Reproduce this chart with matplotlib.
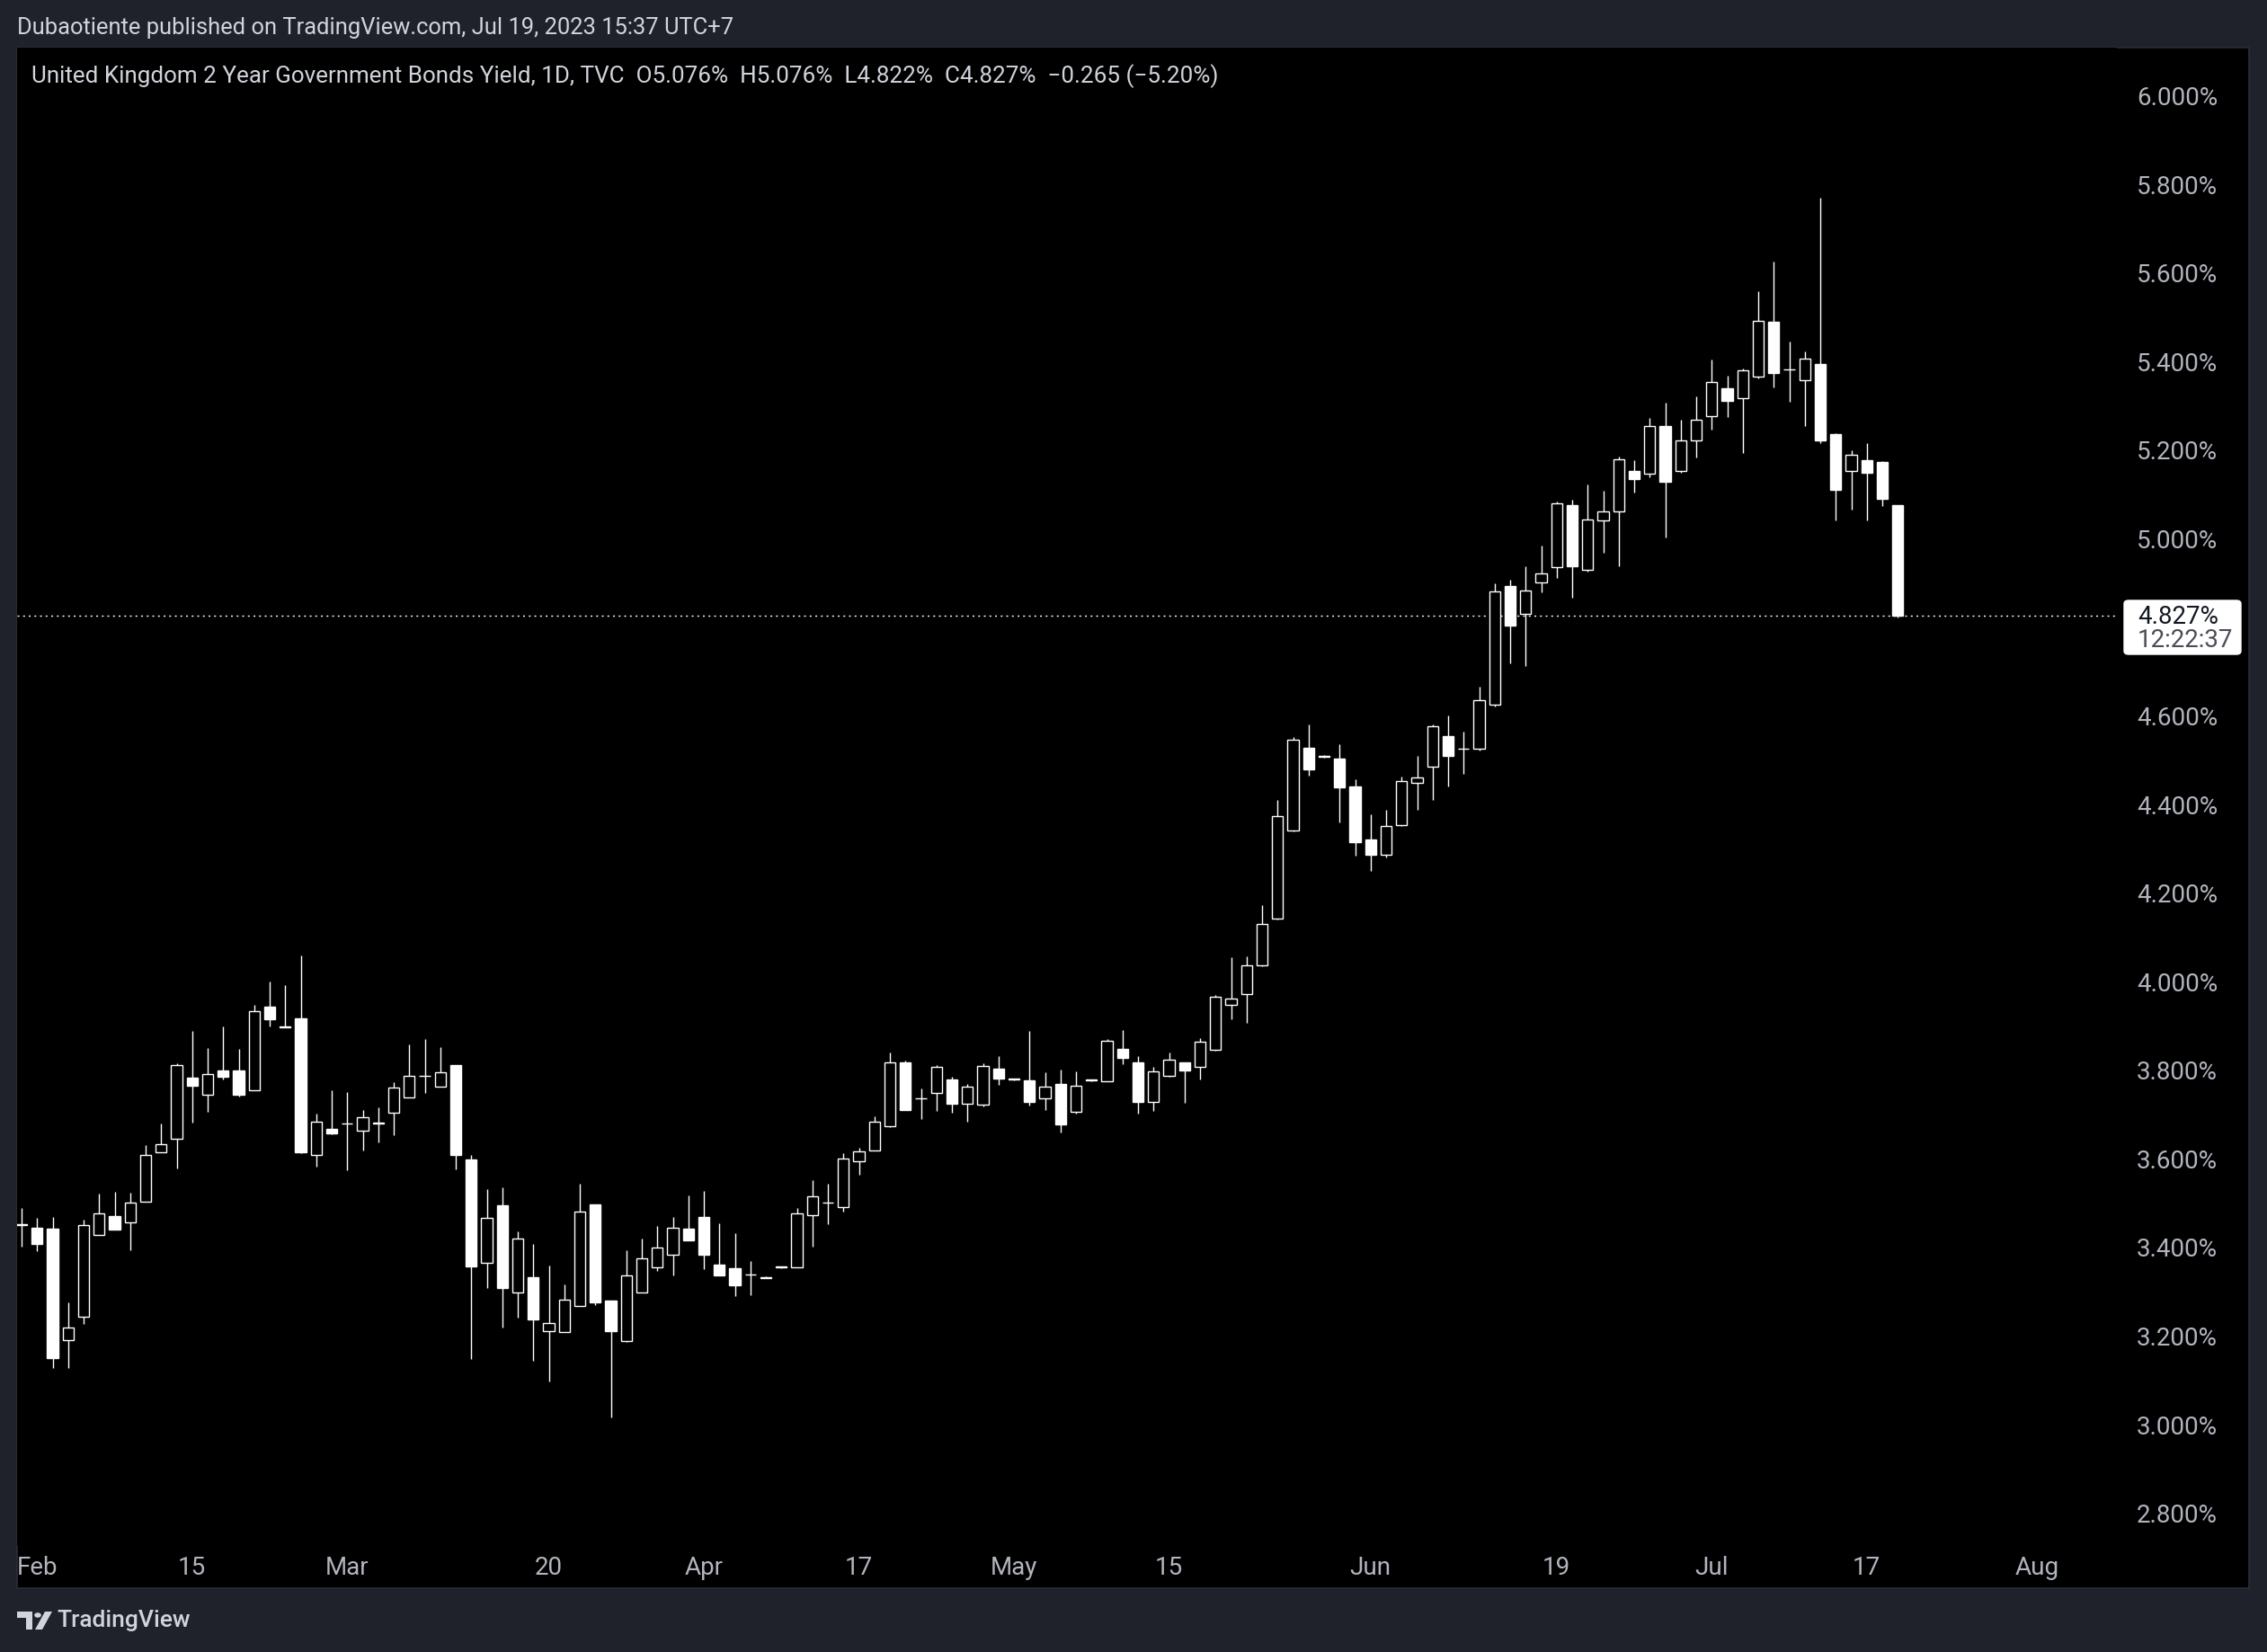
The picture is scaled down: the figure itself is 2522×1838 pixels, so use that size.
import numpy as np
import pandas as pd
import matplotlib
matplotlib.use("Agg")
import matplotlib.pyplot as plt
from matplotlib.patches import Rectangle, FancyBboxPatch, Polygon, Circle

# UK 2Y gilt yield, daily bars, Jan 31 - Jul 19 2023
dates = pd.bdate_range("2023-01-31", "2023-07-19")

opens = [3.452, 3.444, 3.442, 3.191, 3.243, 3.428, 3.471, 3.456, 3.504, 3.615,
         3.645, 3.783, 3.744, 3.799, 3.799, 3.754, 3.944, 3.898, 3.918, 3.608,
         3.667, 3.680, 3.663, 3.680, 3.705, 3.739, 3.787, 3.762, 3.812, 3.599,
         3.365, 3.495, 3.298, 3.333, 3.211, 3.208, 3.267, 3.497, 3.280, 3.188,
         3.298, 3.356, 3.383, 3.442, 3.469, 3.361, 3.353, 3.338, 3.331, 3.355,
         3.356, 3.473, 3.502, 3.492, 3.594, 3.618, 3.673, 3.817, 3.736, 3.748,
         3.779, 3.725, 3.723, 3.803, 3.779, 3.777, 3.736, 3.770, 3.707, 3.779,
         3.776, 3.848, 3.818, 3.729, 3.788, 3.818, 3.807, 3.847, 3.947, 3.971,
         4.036, 4.142, 4.342, 4.529, 4.507, 4.503, 4.441, 4.321, 4.287, 4.354,
         4.448, 4.485, 4.554, 4.525, 4.525, 4.625, 4.893, 4.830, 4.901, 4.935,
         5.076, 4.930, 5.042, 5.062, 5.154, 5.146, 5.254, 5.152, 5.221, 5.276,
         5.339, 5.318, 5.367, 5.489, 5.382, 5.357, 5.394, 5.236, 5.152, 5.177,
         5.173, 5.076]
highs = [3.489, 3.467, 3.469, 3.276, 3.462, 3.522, 3.525, 3.523, 3.631, 3.680,
         3.816, 3.889, 3.850, 3.899, 3.848, 3.948, 4.000, 3.992, 4.060, 3.702,
         3.755, 3.751, 3.710, 3.716, 3.773, 3.858, 3.871, 3.852, 3.812, 3.609,
         3.532, 3.536, 3.436, 3.408, 3.359, 3.317, 3.544, 3.497, 3.280, 3.394,
         3.420, 3.448, 3.469, 3.517, 3.528, 3.454, 3.432, 3.369, 3.334, 3.358,
         3.490, 3.552, 3.544, 3.612, 3.625, 3.696, 3.840, 3.821, 3.759, 3.811,
         3.786, 3.770, 3.815, 3.832, 3.782, 3.888, 3.795, 3.801, 3.797, 3.780,
         3.870, 3.891, 3.832, 3.807, 3.840, 3.818, 3.872, 3.970, 4.055, 4.057,
         4.173, 4.410, 4.552, 4.581, 4.511, 4.536, 4.456, 4.378, 4.388, 4.463,
         4.510, 4.580, 4.601, 4.565, 4.666, 4.899, 4.907, 4.938, 4.985, 5.084,
         5.088, 5.123, 5.108, 5.186, 5.177, 5.273, 5.307, 5.269, 5.321, 5.405,
         5.368, 5.384, 5.559, 5.625, 5.445, 5.422, 5.770, 5.238, 5.200, 5.216,
         5.175, 5.076]
lows = [3.401, 3.392, 3.128, 3.128, 3.228, 3.428, 3.441, 3.394, 3.504, 3.615,
        3.579, 3.681, 3.707, 3.780, 3.741, 3.754, 3.899, 3.896, 3.612, 3.583,
        3.655, 3.575, 3.619, 3.637, 3.654, 3.739, 3.749, 3.762, 3.577, 3.149,
        3.309, 3.220, 3.242, 3.145, 3.098, 3.208, 3.267, 3.269, 3.017, 3.186,
        3.298, 3.347, 3.336, 3.415, 3.352, 3.336, 3.291, 3.293, 3.330, 3.354,
        3.356, 3.402, 3.453, 3.481, 3.565, 3.618, 3.671, 3.711, 3.690, 3.708,
        3.705, 3.684, 3.719, 3.767, 3.778, 3.721, 3.711, 3.660, 3.703, 3.776,
        3.776, 3.814, 3.703, 3.709, 3.786, 3.727, 3.780, 3.845, 3.916, 3.908,
        4.034, 4.140, 4.340, 4.466, 4.505, 4.360, 4.285, 4.250, 4.281, 4.352,
        4.389, 4.411, 4.441, 4.470, 4.521, 4.622, 4.719, 4.713, 4.880, 4.912,
        4.866, 4.926, 4.969, 4.937, 5.105, 5.139, 5.003, 5.148, 5.184, 5.247,
        5.275, 5.194, 5.363, 5.342, 5.310, 5.255, 5.215, 5.042, 5.066, 5.042,
        5.074, 4.822]
closes = [3.450, 3.407, 3.151, 3.220, 3.450, 3.476, 3.441, 3.502, 3.608, 3.633,
          3.811, 3.766, 3.791, 3.786, 3.744, 3.933, 3.916, 3.896, 3.615, 3.683,
          3.658, 3.679, 3.693, 3.682, 3.760, 3.787, 3.788, 3.795, 3.609, 3.358,
          3.467, 3.308, 3.421, 3.238, 3.230, 3.283, 3.480, 3.275, 3.212, 3.336,
          3.375, 3.399, 3.444, 3.415, 3.383, 3.337, 3.315, 3.338, 3.333, 3.357,
          3.476, 3.516, 3.502, 3.601, 3.617, 3.683, 3.818, 3.711, 3.736, 3.808,
          3.725, 3.763, 3.810, 3.782, 3.781, 3.729, 3.762, 3.678, 3.766, 3.777,
          3.866, 3.828, 3.729, 3.797, 3.823, 3.800, 3.864, 3.965, 3.962, 4.036,
          4.131, 4.373, 4.547, 4.480, 4.509, 4.439, 4.315, 4.287, 4.352, 4.452,
          4.462, 4.576, 4.510, 4.525, 4.635, 4.882, 4.803, 4.884, 4.922, 5.079,
          4.937, 5.043, 5.062, 5.179, 5.135, 5.254, 5.129, 5.223, 5.269, 5.353,
          5.312, 5.380, 5.491, 5.375, 5.382, 5.406, 5.221, 5.111, 5.189, 5.148,
          5.091, 4.827]

tick_dates = ["2023-02-01", "2023-02-15", "2023-03-01", "2023-03-20", "2023-04-03",
              "2023-04-17", "2023-05-01", "2023-05-15", "2023-06-01", "2023-06-19",
              "2023-07-03", "2023-07-17", "2023-08-01"]
tick_labels = ["Feb", "15", "Mar", "20", "Apr", "17", "May", "15", "Jun", "19",
               "Jul", "17", "Aug"]
price_ticks = [2.8, 3.0, 3.2, 3.4, 3.6, 3.8, 4.0, 4.2, 4.4, 4.6, 5.0, 5.2, 5.4, 5.6, 5.8, 6.0]

last_price = 4.827
countdown = "12:22:37"

header = "Dubaotiente published on TradingView.com, Jul 19, 2023 15:37 UTC+7"
legend = ("United Kingdom 2 Year Government Bonds Yield, 1D, TVC  O5.076%  H5.076%  "
          "L4.822%  C4.827%  \u22120.265 (\u22125.20%)")

# colours
frame_bg = "#1f222b"
chart_bg = "#000000"
txt = "#d1d4dc"
axis_txt = "#b2b5be"

plt.rcParams['font.family'] = ['Roboto', 'DejaVu Sans']

W, H = 2522, 1838
fig = plt.figure(figsize=(W / 100, H / 100), dpi=100)
fig.patch.set_facecolor(frame_bg)

def fx(px):
    return px / W

def fy(py):
    return 1 - py / H

# black chart panel (behind the axes)
fig.patches.append(Rectangle((fx(19), fy(1767)), fx(2502) - fx(19), fy(53) - fy(1767),
                             transform=fig.transFigure, facecolor=chart_bg,
                             edgecolor="#2a2e39", lw=1.2, zorder=-5))

ax_l, ax_r, ax_t, ax_b = 19, 2355, 53, 1720
ax = fig.add_axes([fx(ax_l), fy(ax_b), fx(ax_r) - fx(ax_l), fy(ax_t) - fy(ax_b)])
ax.set_facecolor(chart_bg)
for s in ax.spines.values():
    s.set_visible(False)

x = np.arange(len(dates))
o = np.array(opens); c = np.array(closes)
up = c >= o

# wicks, then bodies on top (hollow = up, filled = down)
ax.vlines(x, lows, highs, color="white", lw=1.0, zorder=2)
ax.bar(x, np.abs(c - o), bottom=np.minimum(o, c), width=0.7,
       color=np.where(up, chart_bg, "white"), edgecolor="white", lw=1.0, zorder=3)

# last price line
ax.axhline(last_price, color="white", lw=1.0, ls=(0, (1.5, 3)), zorder=1)

# scales (bar index based, like TradingView)
ax.set_xlim((ax_l - 24) / 17.25, (ax_r - 24) / 17.25)
ax.set_ylim(6.0 - (ax_b - 106.6) / 492.8, 6.0 - (ax_t - 106.6) / 492.8)

tick_pos = [len(pd.bdate_range(dates[0], d)) - 1 for d in tick_dates]
ax.set_xticks(tick_pos)
ax.set_xticklabels(tick_labels)
ax.set_yticks(price_ticks)
ax.set_yticklabels(["%.3f%%" % p for p in price_ticks])
ax.yaxis.tick_right()
ax.tick_params(axis="y", length=0, pad=16, labelsize=20, labelcolor=axis_txt)
ax.tick_params(axis="x", length=0, pad=8, labelsize=20, labelcolor=axis_txt)

# last price label
fig.patches.append(FancyBboxPatch((fx(2363), fy(728)), fx(2493) - fx(2363), fy(668) - fy(728),
                                  boxstyle="round,pad=0,rounding_size=0.002",
                                  transform=fig.transFigure, facecolor="white",
                                  edgecolor="white", lw=1, zorder=5))
fig.text(fx(2378), fy(686), "%.3f%%" % last_price, color="#131722", fontsize=20,
         va="center", ha="left", zorder=6)
fig.text(fx(2378), fy(713), countdown, color="#4a4d57", fontsize=20,
         va="center", ha="left", zorder=6)

# header, legend
fig.text(fx(19), fy(31), header, color=txt, fontsize=18.4, va="center", ha="left")
fig.text(fx(35), fy(85), legend, color=txt, fontsize=18.7, va="center", ha="left")

# footer logo + name
fig.patches.append(Polygon([(fx(19), fy(1793)), (fx(36), fy(1793)), (fx(36), fy(1813)),
                            (fx(29), fy(1813)), (fx(29), fy(1800)), (fx(19), fy(1800))],
                           closed=True, transform=fig.transFigure, facecolor=txt, lw=0))
fig.patches.append(Circle((fx(42), fy(1797)), 3.8 / W, transform=fig.transFigure,
                          facecolor=txt, lw=0))
fig.patches.append(Polygon([(fx(39), fy(1813)), (fx(47), fy(1813)), (fx(58), fy(1793)),
                            (fx(50), fy(1793))],
                           closed=True, transform=fig.transFigure, facecolor=txt, lw=0))
fig.text(fx(63), fy(1803), "TradingView", color=txt, fontsize=19, va="center", ha="left",
         fontweight="medium")

fig.savefig("out.png", dpi=100, facecolor=fig.get_facecolor())
